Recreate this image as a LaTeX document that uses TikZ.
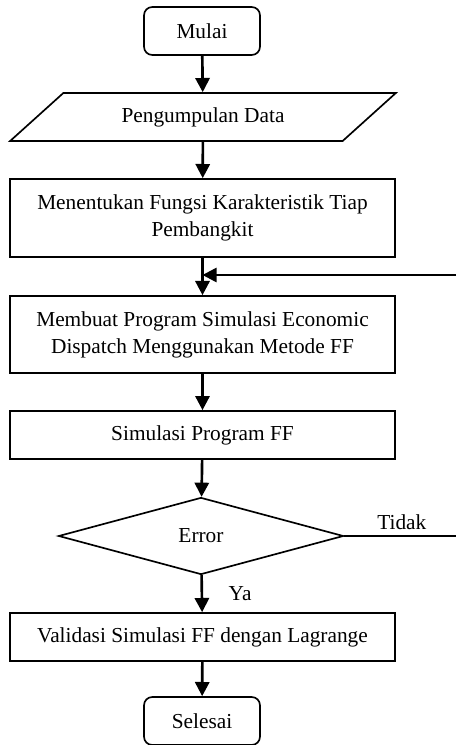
\documentclass[tikz,border=0pt]{standalone}
\usepackage{fontspec}
\setmainfont{Liberation Serif}
\usepackage{tikz}
\usetikzlibrary{positioning}
\usetikzlibrary{arrows.meta,shapes}
\usetikzlibrary{shapes.geometric}
\usetikzlibrary{calc}
\tikzstyle{terminal}=[rectangle,rounded corners=5pt,draw,line width=1pt,minimum width=69.6pt,minimum height=28.8pt,inner sep=0pt]
\tikzstyle{process}=[rectangle,draw,line width=1pt,minimum width=231pt,inner sep=0pt,align=center]
\tikzstyle{io}=[trapezium,trapezium left angle=32,trapezium right angle=148,trapezium stretches=true,draw,line width=1pt,minimum width=231.6pt,minimum height=28.8pt,inner sep=0pt]
\tikzstyle{decision}=[diamond,draw,line width=1pt,minimum width=171pt,minimum height=46.2pt,inner sep=0pt]
\tikzstyle{edge} = [draw,line width=1.6pt,-{Triangle[length=8.5pt,width=8.5pt]}]
\tikzstyle{plainedge} = [draw,line width=1pt]
\tikzstyle{weight} = [right,xshift=12pt]

\begin{document}
\begin{tikzpicture}[x=0.6pt,y=-0.6pt,font=\fontsize{12.8}{16.2}\selectfont]
    \useasboundingbox (0,0) rectangle (456,745);

    \foreach \pos/\name/\label in {{(202,31)/mulai/Mulai}, {(202,721)/selesai/Selesai}}
        \node[terminal] (\name) at \pos {\label};

    \node[io] (data) at (203,117) {Pengumpulan Data};

    \foreach \pos/\name/\label/\hgt in {{(202.5,218)/fungsi/{Menentukan Fungsi Karakteristik Tiap\\Pembangkit}/46.8pt}, {(202.5,334.5)/program/{Membuat Program Simulasi Economic\\Dispatch Menggunakan Metode FF}/46.2pt}, {(202.5,435)/simulasi/Simulasi Program FF/28.8pt}, {(202.5,637)/validasi/Validasi Simulasi FF dengan Lagrange/28.8pt}}
        \node[process,minimum height=\hgt] (\name) at \pos {\label};

    \node[decision] (error) at (201,536) {Error};

    \coordinate (balik) at (456,275);
    \coordinate (tidakujung) at (456,536);

    \foreach \source/ \dest /\weight in {mulai/data/{}, data/fungsi/{}, fungsi/program/{}, program/simulasi/{}, simulasi/error/{}, error/validasi/Ya, validasi/selesai/{}}
        \path[edge] (\source) -- node[weight] {\weight} (\dest);

    \path[plainedge] (error.east) -- node[above,xshift=1pt] {Tidak} (tidakujung);
    \path[edge] (balik) -- (balik -| fungsi.south);
\end{tikzpicture}
\end{document}
